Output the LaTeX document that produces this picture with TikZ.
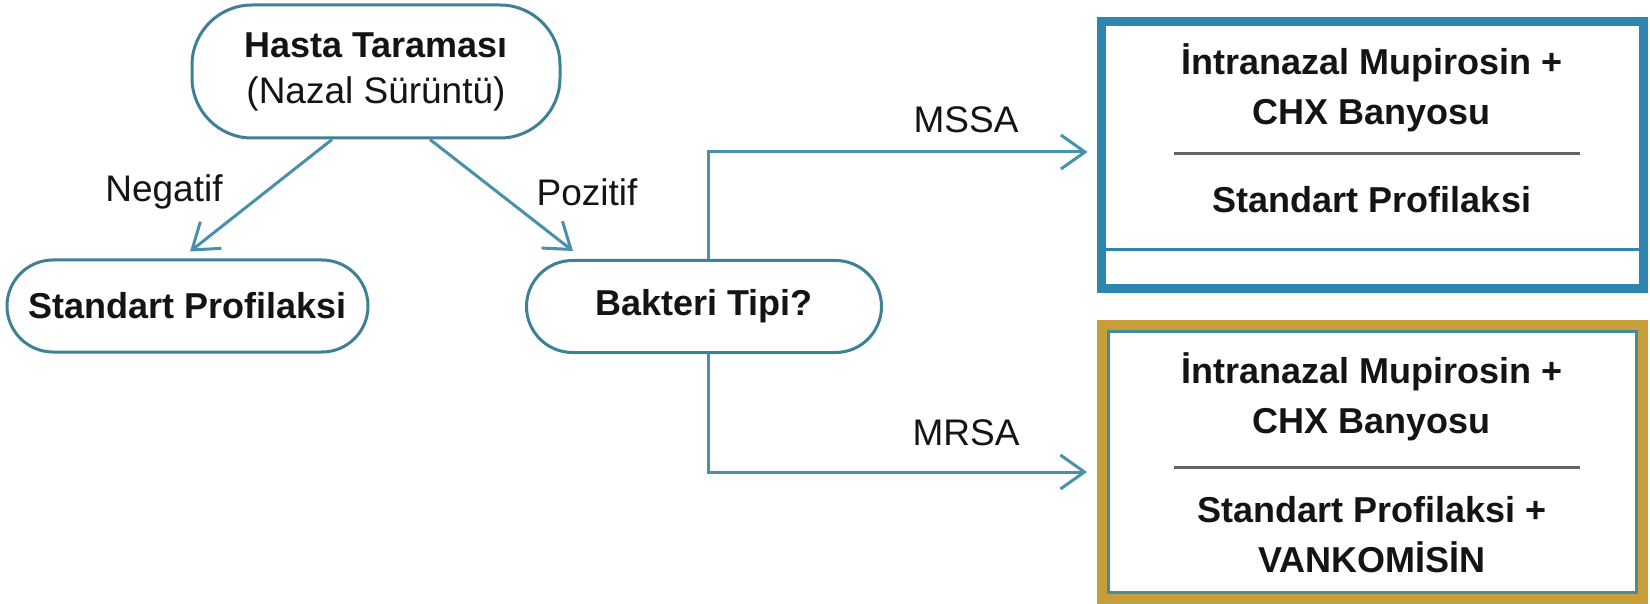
\documentclass[tikz,border=0pt]{standalone}
\usepackage{fontspec}
\setmainfont{Liberation Sans}
\usetikzlibrary{arrows.meta}
\definecolor{connc}{RGB}{72,145,170}
\definecolor{nodeb}{RGB}{62,128,148}
\definecolor{blueb}{RGB}{45,134,176}
\definecolor{goldb}{RGB}{200,158,58}
\definecolor{tealb}{RGB}{70,140,150}
\definecolor{divg}{RGB}{100,100,100}
\definecolor{txt}{RGB}{20,20,20}
\begin{document}
\begin{tikzpicture}[x=1pt,y=-1pt,
  pill/.style={draw=nodeb, line width=3pt, rounded corners=46pt, inner sep=0pt, align=center, text=txt,
    font=\fontsize{36}{46}\selectfont},
  bt/.style={font=\fontsize{36}{50}\selectfont\bfseries, text=txt, inner sep=0pt, align=center},
  rt/.style={font=\fontsize{37}{42}\selectfont, text=txt, inner sep=0pt},
  connector/.style={draw=connc, line width=3pt, -{Straight Barb[length=24pt,width=34pt]}},
  divider/.style={draw=divg, line width=3pt},
  ]
\fill[white] (0,0) rectangle (1650,604);
\useasboundingbox (0,0) rectangle (1650,604);

% flow nodes
\node[pill, rounded corners=60pt, minimum width=368pt, minimum height=133pt] (hasta) at (376,71.5)
  {\textbf{Hasta Taraması}\\\fontsize{37}{46}\selectfont(Nazal Sürüntü)};
\node[pill, minimum width=361pt, minimum height=92pt] (std) at (187.5,306) {\bfseries Standart Profilaksi};
\node[pill, minimum width=355pt, minimum height=92pt] (bak) at (704,306.5) {\bfseries Bakteri Tipi?};

% result boxes
\node[draw=blueb, line width=9pt, minimum width=542pt, minimum height=267pt, inner sep=0pt] (box1) at (1372.5,155) {};
\draw[blueb, line width=3pt] (1106,250) -- (1639,250);
\node[bt] (b1a) at (1372,87.5) {İntranazal Mupirosin +\\CHX Banyosu};
\draw[divider] (1174,154) -- (1580,154);
\node[bt] (b1b) at (1372,200) {Standart Profilaksi};

\node[draw=goldb, line width=10pt, minimum width=541pt, minimum height=274pt, inner sep=0pt] (box2) at (1372.5,462) {};
\node[draw=tealb, line width=3pt, minimum width=528pt, minimum height=261pt, inner sep=0pt] (box2in) at (1372.5,462) {};
\node[bt] (b2a) at (1372,397) {İntranazal Mupirosin +\\CHX Banyosu};
\draw[divider] (1174,467) -- (1580,467);
\node[bt] (b2b) at (1372,535) {Standart Profilaksi +\\VANKOMİSİN};

% connectors
\draw[connector] ([xshift=-44pt]hasta.south) -- ([xshift=2.5pt,yshift=7pt]std.north);
\draw[connector] ([xshift=54pt]hasta.south) -- ([xshift=-131pt,yshift=8pt]bak.north);
\draw[connector] ([xshift=4pt]bak.north) |- ([xshift=-9.5pt,yshift=3pt]box1.west);
\draw[connector] ([xshift=4pt]bak.south) |- ([xshift=-10pt,yshift=-10pt]box2.west);

% labels
\node[rt] (neg) at (164,192) {Negatif};
\node[rt] (poz) at (587,192) {Pozitif};
\node[rt] (mssa) at (966,120) {MSSA};
\node[rt] (mrsa) at (966,433) {MRSA};
\end{tikzpicture}
\end{document}
